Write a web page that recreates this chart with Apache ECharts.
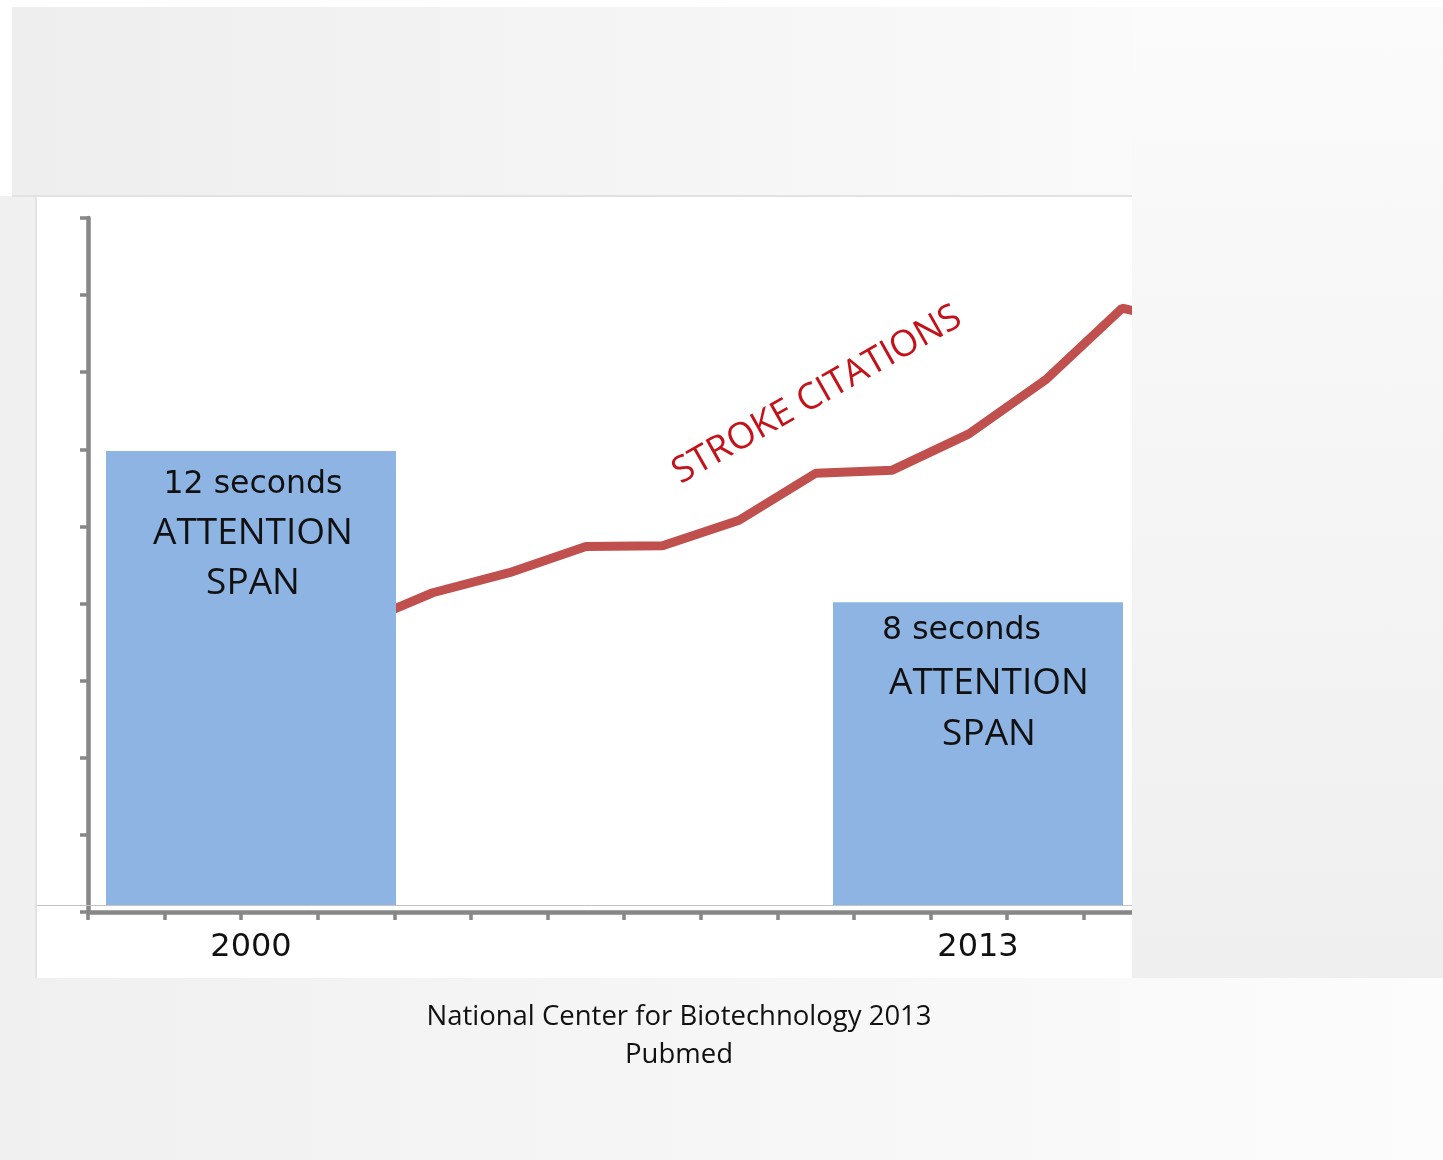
<!DOCTYPE html>
<html>
<head>
<meta charset="utf-8">
<script src="https://cdn.jsdelivr.net/npm/echarts@6/dist/echarts.min.js"></script>
<style>
  html, body { margin: 0; padding: 0; }
  body { width: 1443px; height: 1160px; position: relative; overflow: hidden;
         background: linear-gradient(to right, #f0f0f0, #fcfcfc); }
  .bg { position: absolute; }
  #chart { position: absolute; left: 0; top: 0; width: 1443px; height: 1160px; z-index: 5; }
  #rightPanel { z-index: 10; }
</style>
</head>
<body>
<div class="bg" style="left:0;top:0;width:1443px;height:7px;background:#ffffff"></div>
<div class="bg" style="left:0;top:0;width:12px;height:196px;background:#ffffff"></div>
<div class="bg" style="left:12px;top:7px;width:1120px;height:188px;background:linear-gradient(to right,#eeeeee,#fafafa);border-bottom:2px solid #e2e2e2"></div>
<div class="bg" style="left:35px;top:197px;width:2px;height:781px;background:#e3e3e3"></div>
<div class="bg" style="left:37px;top:197px;width:1095px;height:781px;background:#ffffff"></div>
<div id="chart"></div>
<div id="rightPanel" class="bg" style="left:1132px;top:7px;width:311px;height:971px;background:linear-gradient(to bottom,#fbfbfb,#efefef)"></div>
<script>
// ---- data ----
const slots = ['1','2','3','4','5','6','7','8','9','10','11','12','13','14','15'];
const strokeCitations = [null, null, null, 3.72, 4.14, 4.40, 4.74, 4.75, 5.08, 5.69, 5.73, 6.20, 6.90, 7.83, 7.60];
const years = [2000, 2013];
const attentionSeconds = [12, 8];
const secondsText = ['12 seconds', '8 seconds'];
const barCaption = ['ATTENTION', 'SPAN'];
const lineTitle = 'STROKE CITATIONS';
const sourceLines = ['National Center for Biotechnology 2013', 'Pubmed'];

// ---- layout ----
const bandPx = 76.6;
const lineGrid = { left: 88, top: 218, width: bandPx * slots.length, height: 694 };
const barBase = 905, barLeft = 37, barRight = 1132;
const yearPx = (978 - 251) / (years[1] - years[0]);
const barXMin = years[0] - (251 - barLeft) / yearPx;
const barXMax = barXMin + (barRight - barLeft) / yearPx;
const barYMax = 18, secPx = 454 / 12;
const barGrid = { left: barLeft, top: barBase - barYMax * secPx, width: barRight - barLeft, height: barYMax * secPx };

const axisGray = '#878787';
const labelFont = 'DejaVu Sans';
const capFont = 'Open Sans';

const barLabelStyles = [
  { distance: 11, offset: [2, 0], l1: 46, l3: 50, pad: 0 },
  { distance: 0, offset: [11, 0], l1: 56, l3: 52, pad: 55 }
];

const barData = years.map((y, i) => {
  const s = barLabelStyles[i];
  return {
    value: [y, attentionSeconds[i]],
    label: {
      show: true,
      position: 'insideTop',
      distance: s.distance,
      offset: s.offset,
      formatter: '{a|' + secondsText[i] + '}\n{b|' + barCaption[0] + '}\n{c|' + barCaption[1] + '}',
      rich: {
        a: { fontFamily: labelFont, fontSize: 31.5, lineHeight: s.l1, color: '#111', padding: [0, s.pad, 0, 0] },
        b: { fontFamily: capFont, fontSize: 37, lineHeight: 50, color: '#111' },
        c: { fontFamily: capFont, fontSize: 37, lineHeight: s.l3, color: '#111' }
      }
    }
  };
});

const chart = echarts.init(document.getElementById('chart'), null, { renderer: 'canvas' });
chart.setOption({
  backgroundColor: 'transparent',
  animation: false,
  grid: [
    Object.assign({ containLabel: false }, lineGrid),
    Object.assign({ containLabel: false }, barGrid)
  ],
  xAxis: [
    {
      gridIndex: 0, type: 'category', data: slots, boundaryGap: true,
      axisLine: { show: true, lineStyle: { color: axisGray, width: 4.5 } },
      axisTick: { show: true, interval: 0, length: 8, lineStyle: { color: axisGray, width: 3.5 } },
      axisLabel: { show: false }, splitLine: { show: false }
    },
    {
      gridIndex: 1, type: 'value', min: barXMin, max: barXMax,
      axisLine: { show: true, lineStyle: { color: '#c3c3c3', width: 1 } },
      axisTick: { show: false }, splitLine: { show: false },
      axisLabel: {
        show: true, customValues: years, margin: 27,
        fontFamily: labelFont, fontSize: 32, color: '#111',
        formatter: v => String(Math.round(v))
      }
    }
  ],
  yAxis: [
    {
      gridIndex: 0, type: 'value', min: 0, max: 9, interval: 1,
      axisLine: { show: true, lineStyle: { color: axisGray, width: 4.5 } },
      axisTick: { show: true, length: 8, lineStyle: { color: axisGray, width: 3.5 } },
      axisLabel: { show: false }, splitLine: { show: false }
    },
    {
      gridIndex: 1, type: 'value', min: 0, max: barYMax,
      show: false, splitLine: { show: false }
    }
  ],
  series: [
    {
      name: lineTitle, type: 'line', xAxisIndex: 0, yAxisIndex: 0, z: 2,
      data: strokeCitations, symbol: 'none', connectNulls: false,
      lineStyle: { color: '#c0504d', width: 9 }
    },
    {
      name: 'Attention span', type: 'bar', xAxisIndex: 1, yAxisIndex: 1, z: 3,
      barWidth: 290, data: barData,
      itemStyle: { color: '#8eb4e3' }
    }
  ],
  graphic: [
    {
      type: 'text', x: 817, y: 395, rotation: 29.5 * Math.PI / 180, z: 10,
      style: { text: lineTitle, fontFamily: capFont, fontSize: 36.5, fill: '#c4121a',
               align: 'center', verticalAlign: 'middle' }
    },
    {
      type: 'text', x: 679, y: 1036, z: 10,
      style: { text: sourceLines.join('\n'), fontFamily: capFont, fontSize: 27.5, lineHeight: 38,
               fill: '#111', align: 'center', verticalAlign: 'middle' }
    }
  ]
});
</script>
</body>
</html>
